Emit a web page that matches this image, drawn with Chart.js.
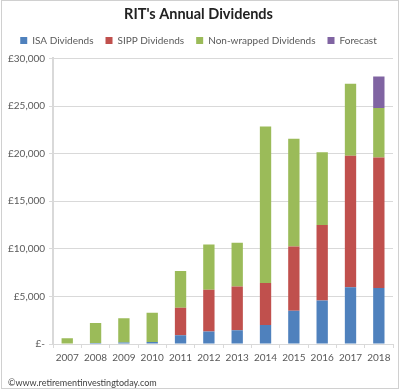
<!DOCTYPE html>
<html>
<head>
<meta charset="utf-8">
<script src="https://cdn.jsdelivr.net/npm/chart.js@4/dist/chart.umd.min.js"></script>
<style>
  html, body { margin: 0; padding: 0; background: #fff; }
  #wrap { position: relative; width: 400px; height: 390px; }
</style>
</head>
<body>
<div id="wrap"><canvas id="divChart" width="400" height="390"></canvas></div>
<script>
// RIT's annual dividends, stacked by wrapper
const years = ['2007', '2008', '2009', '2010', '2011', '2012', '2013', '2014', '2015', '2016', '2017', '2018'];
const isaDividends = [0, 100, 150, 200, 920, 1300, 1450, 2000, 3480, 4570, 5950, 5880];
const sippDividends = [0, 0, 0, 0, 2880, 4400, 4600, 4400, 6760, 7930, 13830, 13720];
const nonWrappedDividends = [600, 2100, 2550, 3070, 3870, 4750, 4580, 16440, 11330, 7640, 7570, 5180];
const forecast = [0, 0, 0, 0, 0, 0, 0, 0, 0, 0, 0, 3320];

const textGrey = '#595959';
const lineGrey = '#d9d9d9';
const font = 'Lato, "Open Sans", sans-serif';

// outer frame + copyright line
const framePlugin = {
  id: 'frame',
  afterDraw(chart) {
    const c = chart.ctx;
    c.save();
    c.strokeStyle = '#d0d0d0';
    c.lineWidth = 1;
    c.strokeRect(1.5, 0.5, 397, 388);
    c.fillStyle = '#404040';
    c.font = '9px ' + font;
    c.textBaseline = 'middle';
    c.fillText('\u00A9www.retirementinvestingtoday.com', 8, 383);
    c.restore();
  }
};

// a little more room under the legend
const legendGap = {
  id: 'legendGap',
  beforeInit(chart) {
    const fit = chart.legend.fit;
    chart.legend.fit = function () {
      fit.bind(chart.legend)();
      this.height += 3;
    };
  }
};

function bar(label, data, color) {
  return {
    label: label,
    data: data,
    backgroundColor: color,
    borderWidth: 0,
    barPercentage: 0.4,
    categoryPercentage: 1
  };
}

new Chart(document.getElementById('divChart'), {
  type: 'bar',
  data: {
    labels: years,
    datasets: [
      bar('ISA Dividends', isaDividends, '#4f81bd'),
      bar('SIPP Dividends', sippDividends, '#c0504d'),
      bar('Non-wrapped Dividends', nonWrappedDividends, '#9bbb59'),
      bar('Forecast', forecast, '#8064a2')
    ]
  },
  options: {
    responsive: false,
    animation: false,
    layout: { padding: { left: 4, right: 7, top: 0, bottom: 22 } },
    plugins: {
      title: {
        display: true,
        text: "RIT's Annual Dividends",
        color: '#222',
        font: { family: font, size: 14.5, weight: 'bold' },
        padding: { top: 6, bottom: 0 }
      },
      legend: {
        labels: {
          color: textGrey,
          font: { family: font, size: 10 },
          boxWidth: 7,
          boxHeight: 7,
          padding: 12
        }
      },
      tooltip: { enabled: false }
    },
    scales: {
      x: {
        stacked: true,
        grid: { offset: true, drawOnChartArea: false, drawTicks: true, tickLength: 4, color: lineGrey },
        border: { color: lineGrey, width: 1 },
        ticks: { color: textGrey, font: { family: font, size: 10 }, padding: 4, maxRotation: 0, autoSkip: false }
      },
      y: {
        stacked: true,
        min: 0,
        max: 30000,
        grid: { color: lineGrey, tickLength: 4 },
        border: { color: lineGrey, width: 2 },
        ticks: {
          stepSize: 5000,
          color: textGrey,
          font: { family: font, size: 10 },
          padding: 4,
          callback: v => v === 0 ? '\u00A3-' : '\u00A3' + v.toLocaleString('en-GB')
        }
      }
    }
  },
  plugins: [framePlugin, legendGap]
});
</script>
</body>
</html>
